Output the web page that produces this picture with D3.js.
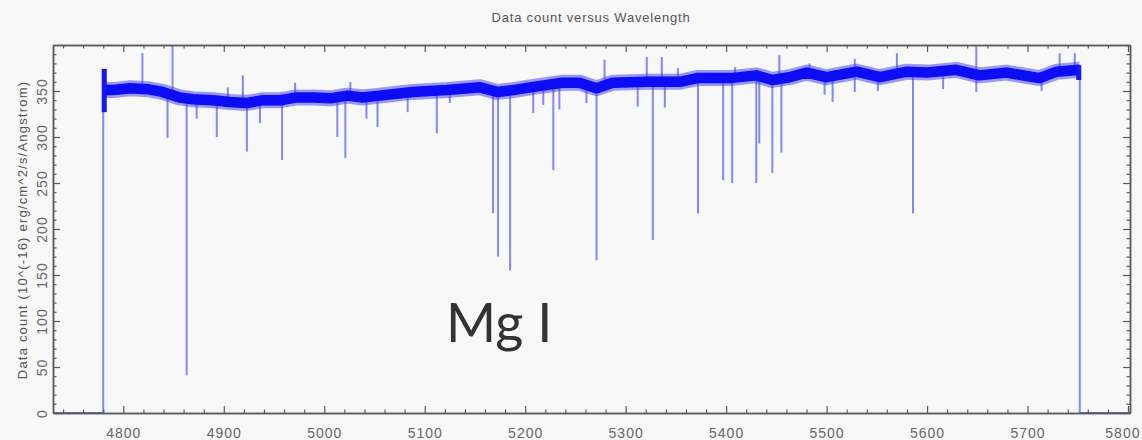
<!DOCTYPE html>
<html><head><meta charset="utf-8">
<script src="https://cdn.jsdelivr.net/npm/d3@7"></script>
<style>body{margin:0;background:#f8f8f8;} svg{display:block}</style>
</head><body><svg id="c" width="1142" height="440"></svg>
<script>
// ---- data ----
const title = "Data count versus Wavelength";
const yLabel = "Data count (10^(-16) erg/cm^2/s/Angstrom)";
const annotation = "Mg I";
const xTicks = [4800, 4900, 5000, 5100, 5200, 5300, 5400, 5500, 5600, 5700, 5800];
const yTicks = [0, 50, 100, 150, 200, 250, 300, 350];
// continuum (wavelength, data count)
const continuum = [[4782,351],[4790,351],[4807,353],[4824,352],[4839,349],[4856,343],[4869,341],[4889,340],[4906,338],[4923,337],[4939,340],[4956,340],[4973,343],[4989,343],[5006,342],[5023,345],[5038,343],[5055,345],[5088,349],[5122,351],[5155,354],[5172,349],[5188,351],[5205,354],[5237,359],[5254,359],[5271,353],[5287,359],[5321,360],[5354,360],[5371,364],[5404,364],[5430,367],[5446,362],[5463,365],[5480,370],[5500,365],[5530,371],[5553,365],[5580,371],[5600,370],[5629,373],[5652,367],[5679,370],[5712,364],[5729,371],[5752,373]];
// zero-level segments outside the observed range
const zeroLeft = [[4730,0],[4780,0]];
const zeroRight = [[5752,0],[5802,0]];
// spectrum edges [wavelength, low, high]
const edges = [[4780,0,373],[5752,0,373]];
// bright noisy blobs at the spectrum ends [wavelength, low, high]
const edgeBlobs = [[4781,327,374],[5751,362,378]];
// absorption lines [wavelength, minimum, continuum]
const absorption = [[4844,299,349],[4863,41,344],[4873,320,341],[4893,300,340],[4923,284,337],[4936,315,340],[4958,275,340],[5013,300,342],[5021,277,345],[5042,320,343],[5053,311,343],[5083,327,349],[5112,304,351],[5125,337,351],[5168,217,352],[5173,170,349],[5185,155,351],[5208,326,354],[5218,335,355],[5228,264,356],[5234,330,358],[5261,337,358],[5271,166,353],[5312,333,360],[5327,188,360],[5339,332,360],[5372,217,364],[5397,253,364],[5406,250,364],[5430,250,366],[5433,293,366],[5446,261,362],[5455,283,363],[5498,346,366],[5506,338,366],[5528,349,370],[5551,350,366],[5586,217,371],[5616,352,371],[5649,349,372],[5714,350,364]];
// upward spikes [wavelength, continuum, maximum]
const emission = [[4819,352,391],[4849,347,400],[4904,338,354],[4919,337,367],[4971,343,359],[5026,345,360],[5279,356,384],[5321,360,387],[5336,360,387],[5352,360,375],[5409,364,376],[5453,363,389],[5483,369,380],[5528,370,385],[5570,371,391],[5649,372,400],[5732,371,391],[5747,372,391]];

// ---- drawing ----
const svg = d3.select("#c");
const W = 1142, H = 440;
const L = 53, R = 1130, T = 45, B = 413;
const x = d3.scaleLinear().domain([4730, 5802]).range([L, R]);
const y = d3.scaleLinear().domain([0, 400]).range([B, T]);

svg.append("rect").attr("width", W).attr("height", H).attr("fill", "#f8f8f8");
const defs = svg.append("defs");
defs.append("filter").attr("id","soft").append("feGaussianBlur").attr("stdDeviation",0.6);
defs.append("clipPath").attr("id","pc").append("rect")
  .attr("x", L).attr("y", T-2).attr("width", R-L).attr("height", B-T+2);

const g = svg.append("g");
const plot = g.append("g").attr("clip-path","url(#pc)").append("g").attr("filter","url(#soft)");

const line = d3.line().x(d => x(d[0])).y(d => y(d[1]));

[zeroLeft, zeroRight].forEach(seg => plot.append("path").datum(seg).attr("d", line)
  .attr("stroke","#6a6aff").attr("stroke-width",2).attr("fill","none"));

const spikes = absorption.concat(emission).concat(edges);
plot.selectAll("line.sp").data(spikes).join("line").attr("class","sp")
  .attr("x1", d => x(d[0])).attr("x2", d => x(d[0]))
  .attr("y1", d => y(d[1])).attr("y2", d => y(d[2]))
  .attr("stroke", "#8585ff").attr("stroke-width", 2);

// fuzzy band
plot.append("path").datum(continuum).attr("d", line).attr("fill","none")
  .attr("stroke","#3a3aff").attr("stroke-opacity",0.5).attr("stroke-width",16).attr("stroke-linejoin","round");
plot.append("path").datum(continuum).attr("d", line).attr("fill","none")
  .attr("stroke","#0c0cf5").attr("stroke-width",10.5).attr("stroke-linejoin","round");
plot.selectAll("line.bl").data(edgeBlobs).join("line").attr("class","bl")
  .attr("x1", d => x(d[0])).attr("x2", d => x(d[0]))
  .attr("y1", d => y(d[1])).attr("y2", d => y(d[2]))
  .attr("stroke", "#1414f5").attr("stroke-width", 5);

// axes
const axCol = "#5a5a5a";
function styleAxis(sel){
  sel.selectAll(".domain").attr("stroke", axCol).attr("stroke-width",1.5);
  sel.selectAll(".tick line").attr("stroke", axCol).attr("stroke-width",1.2);
  sel.selectAll("text").attr("fill","#666").attr("font-family","Liberation Sans, Arial, sans-serif").attr("font-size",14).attr("letter-spacing",1);
}
const xMinor = d3.range(4740, 5802, 20).filter(v => v % 100 !== 0);
const yMinor = d3.range(0, 401, 10).filter(v => v % 50 !== 0);

const gb = g.append("g").attr("transform",`translate(0,${B})`)
  .call(d3.axisBottom(x).tickValues(xTicks).tickFormat(d3.format("d")).tickSizeInner(-7).tickSizeOuter(0).tickPadding(15));
styleAxis(gb);
gb.selectAll(".tick text").filter(d => d === xTicks[xTicks.length-1]).attr("text-anchor","end").attr("x", 12);
g.append("g").attr("transform",`translate(0,${B})`).call(d3.axisBottom(x).tickValues(xMinor).tickFormat("").tickSizeInner(-3.5).tickSizeOuter(0)).call(styleAxis);
g.append("g").attr("transform",`translate(0,${T})`).call(d3.axisTop(x).tickValues(xTicks).tickFormat("").tickSizeInner(-7).tickSizeOuter(0)).call(styleAxis);
g.append("g").attr("transform",`translate(0,${T})`).call(d3.axisTop(x).tickValues(xMinor).tickFormat("").tickSizeInner(-3.5).tickSizeOuter(0)).call(styleAxis);

const gl = g.append("g").attr("transform",`translate(${L},0)`)
  .call(d3.axisLeft(y).tickValues(yTicks).tickFormat(d3.format("d")).tickSizeInner(-7).tickSizeOuter(0).tickPadding(5));
styleAxis(gl);
gl.selectAll(".tick text").attr("transform","rotate(-90)").attr("text-anchor","middle").attr("x",0).attr("y",-6).attr("dy","0");
g.append("g").attr("transform",`translate(${L},0)`).call(d3.axisLeft(y).tickValues(yMinor).tickFormat("").tickSizeInner(-3.5).tickSizeOuter(0)).call(styleAxis);
g.append("g").attr("transform",`translate(${R},0)`).call(d3.axisRight(y).tickValues(yTicks).tickFormat("").tickSizeInner(-7).tickSizeOuter(0)).call(styleAxis);
g.append("g").attr("transform",`translate(${R},0)`).call(d3.axisRight(y).tickValues(yMinor).tickFormat("").tickSizeInner(-3.5).tickSizeOuter(0)).call(styleAxis);

// titles
svg.append("text").attr("x", 591).attr("y", 22).attr("text-anchor","middle")
  .attr("font-family","Liberation Sans, Arial, sans-serif").attr("font-size",13).attr("letter-spacing",0.8)
  .attr("fill","#555").text(title);
svg.append("text").attr("transform","translate(27,230) rotate(-90)").attr("text-anchor","middle")
  .attr("font-family","Liberation Sans, Arial, sans-serif").attr("font-size",13).attr("letter-spacing",1.2)
  .attr("fill","#555").text(yLabel);
svg.append("text").attr("x", 446).attr("y", 342)
  .attr("font-family","Lato, Open Sans, sans-serif").attr("font-size",54)
  .attr("fill","#333").text(annotation);
</script>
</body></html>
